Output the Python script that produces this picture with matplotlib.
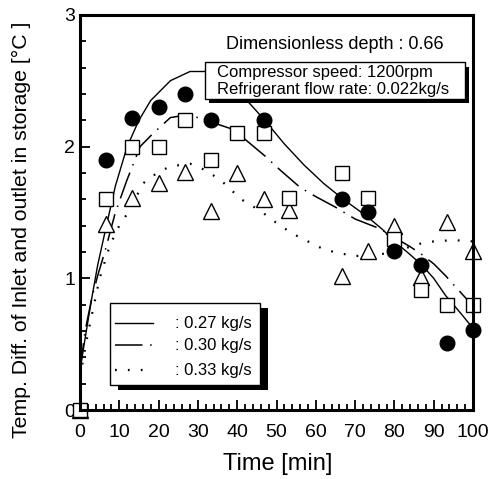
import matplotlib
matplotlib.use("Agg")
import matplotlib.pyplot as plt
from matplotlib.patches import Rectangle
from matplotlib.ticker import MultipleLocator

plt.rcParams["font.family"] = ["Liberation Sans", "DejaVu Sans"]

# measured points (time in min, temperature difference in degC)
t_circle = [6.67, 13.3, 20, 26.7, 33.3, 46.7, 66.7, 73.3, 80, 86.7, 93.3, 100]
y_circle = [1.90, 2.22, 2.30, 2.40, 2.20, 2.20, 1.60, 1.50, 1.21, 1.10, 0.51, 0.61]

t_square = [0, 6.67, 13.3, 20, 26.7, 33.3, 40, 46.7, 53.3, 66.7, 73.3, 80, 86.7, 93.3, 100]
y_square = [0, 1.60, 2.00, 2.00, 2.20, 1.90, 2.10, 2.10, 1.61, 1.80, 1.61, 1.30, 0.91, 0.80, 0.80]

t_tri = [0, 6.67, 13.3, 20, 26.7, 33.3, 40, 46.7, 53.3, 66.7, 73.3, 80, 86.7, 93.3, 100]
y_tri = [0, 1.41, 1.61, 1.72, 1.81, 1.51, 1.80, 1.60, 1.52, 1.02, 1.21, 1.40, 1.01, 1.43, 1.21]

# fitted curves
t_fit27 = [0, 1.5, 3, 4.5, 6.5, 9, 12, 15, 18, 23, 28, 32, 36, 40, 44, 47, 52, 57,
           62, 67, 73, 77, 80, 84, 87, 90, 93, 97, 100]
y_fit27 = [0.30, 0.58, 0.85, 1.10, 1.37, 1.70, 2.00, 2.20, 2.35, 2.50, 2.57, 2.57,
           2.52, 2.43, 2.30, 2.20, 2.02, 1.86, 1.72, 1.60, 1.47, 1.37, 1.28, 1.18,
           1.10, 1.00, 0.87, 0.73, 0.62]

t_fit30 = [0, 1.3, 3, 4.5, 6.4, 9, 12, 15.3, 18.6, 23, 27, 30, 34, 39, 43, 47, 51,
           56, 60, 65, 70, 76, 80, 84, 87, 90, 93, 96, 100]
y_fit30 = [0.30, 0.60, 0.85, 1.02, 1.21, 1.50, 1.75, 2.00, 2.10, 2.22, 2.24, 2.22,
           2.18, 2.13, 2.03, 1.93, 1.82, 1.69, 1.62, 1.54, 1.45, 1.38, 1.31, 1.24,
           1.18, 1.11, 1.02, 0.92, 0.79]

t_fit33 = [0, 2, 5, 7.6, 10, 12.7, 16, 19.6, 23, 28, 32, 36, 41, 46, 50, 54, 58, 62,
           66, 70, 74, 78, 82, 86, 90, 95, 100]
y_fit33 = [0.25, 0.58, 1.00, 1.25, 1.40, 1.52, 1.72, 1.80, 1.85, 1.87, 1.82, 1.74,
           1.60, 1.51, 1.42, 1.34, 1.28, 1.22, 1.19, 1.17, 1.17, 1.19, 1.22, 1.26,
           1.28, 1.29, 1.28]

flow_labels = [": 0.27 kg/s", ": 0.30 kg/s", ": 0.33 kg/s"]

fig = plt.figure(figsize=(4.95, 4.79), dpi=100)
ax = fig.add_axes([0.1616, 0.144, 0.794, 0.825])

style27 = dict(color="black", lw=1.0, ls="-")
style30 = dict(color="black", lw=1.1, ls=(0, (18, 5, 1, 5)))
style33 = dict(color="black", lw=1.6, ls=(0, (0.8, 5)))

ax.plot(t_fit27, y_fit27, **style27)
ax.plot(t_fit30, y_fit30, **style30)
ax.plot(t_fit33, y_fit33, **style33)

ax.plot(t_tri, y_tri, ls="none", marker="^", ms=11, mfc="white", mec="black", mew=1.0, clip_on=False)
ax.plot(t_square, y_square, ls="none", marker="s", ms=10, mfc="white", mec="black", mew=1.0, clip_on=False)
ax.plot(t_circle, y_circle, ls="none", marker="o", ms=10.5, mfc="black", mec="black", clip_on=False)

ax.set_xlim(0, 100)
ax.set_ylim(0, 3)
ax.xaxis.set_major_locator(MultipleLocator(10))
ax.xaxis.set_minor_locator(MultipleLocator(2))
ax.yaxis.set_major_locator(MultipleLocator(1))
ax.yaxis.set_minor_locator(MultipleLocator(0.2))
ax.tick_params(which="both", direction="in", labelsize=14, top=False, right=False, width=1.3)
ax.tick_params(which="major", length=7)
ax.tick_params(which="minor", length=4)
ax.tick_params(axis="x", pad=10)
for s in ax.spines.values():
    s.set_linewidth(2.2)

ax.set_xlabel("Time [min]", fontsize=17)
ax.xaxis.set_label_coords(0.503, -0.11)
ax.set_ylabel("Temp. Diff. of Inlet and outlet in storage [°C ]", fontsize=15.3)
ax.yaxis.set_label_coords(-0.125, 0.456)

ax.text(0.924, 0.924, "Dimensionless depth : 0.66", transform=ax.transAxes,
        ha="right", va="center", fontsize=13)

# condition box with drop shadow
ax.add_patch(Rectangle((0.328, 0.776), 0.662, 0.092, transform=ax.transAxes,
                       facecolor="black", edgecolor="none", zorder=5))
ax.add_patch(Rectangle((0.318, 0.788), 0.662, 0.092, transform=ax.transAxes,
                       facecolor="white", edgecolor="black", lw=1.0, zorder=6))
ax.text(0.348, 0.854, "Compressor speed: 1200rpm", transform=ax.transAxes,
        ha="left", va="center", fontsize=12, zorder=7)
ax.text(0.348, 0.811, "Refrigerant flow rate: 0.022kg/s", transform=ax.transAxes,
        ha="left", va="center", fontsize=12, zorder=7)

# hand-made legend with drop shadow
ax.add_patch(Rectangle((0.096, 0.050), 0.382, 0.208, transform=ax.transAxes,
                       facecolor="black", edgecolor="none", zorder=5))
ax.add_patch(Rectangle((0.076, 0.063), 0.382, 0.208, transform=ax.transAxes,
                       facecolor="white", edgecolor="black", lw=1.0, zorder=6))
row_y = [0.220, 0.164, 0.101]
for yy, lab, st in zip(row_y, flow_labels, [style27, style30, style33]):
    ax.plot([0.09, 0.187], [yy, yy], transform=ax.transAxes, zorder=7, **st)
    ax.text(0.243, yy, lab, transform=ax.transAxes, ha="left", va="center",
            fontsize=12, zorder=7)

fig.savefig("out.png", dpi=100)
